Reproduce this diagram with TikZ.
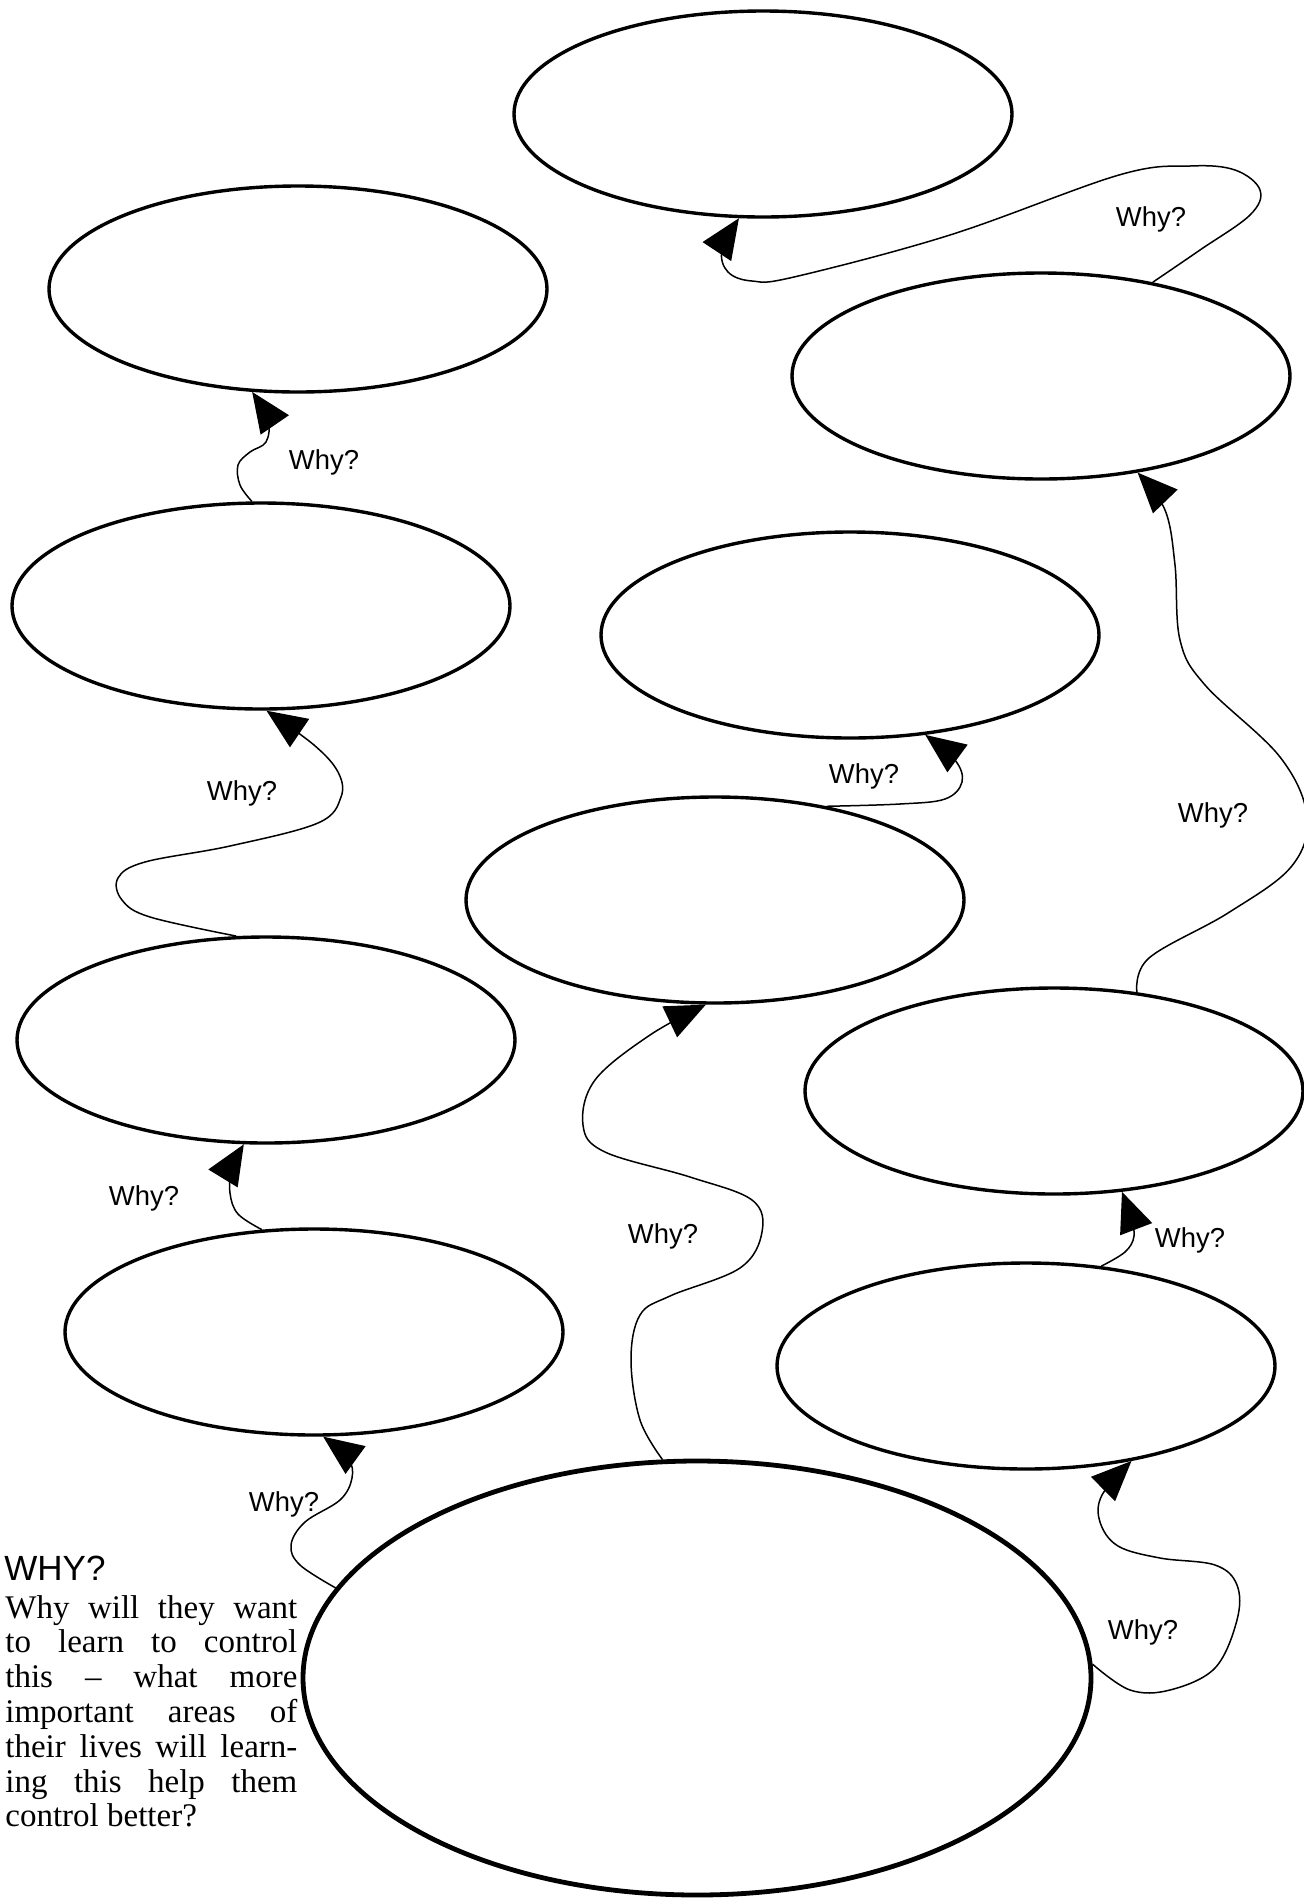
\documentclass[tikz,border=0pt]{standalone}
\usepackage{fontspec}
\newfontfamily\labelfont{Liberation Sans}
\newfontfamily\bodyfont[Ligatures=TeX]{Liberation Serif}
\usetikzlibrary{arrows.meta,shapes.geometric}
\begin{document}
\begin{tikzpicture}[x=0.5pt,y=-0.5pt,
  bubble/.style={draw, ellipse, line width=1.7pt, minimum width=249pt, minimum height=103pt, inner sep=0pt},
  bigbubble/.style={draw, ellipse, line width=2.4pt, minimum width=394pt, minimum height=217pt, inner sep=0pt},
  conn/.style={line width=0.75pt, -{Triangle[length=20pt,width=17pt]}},
  whylab/.style={font=\labelfont\fontsize{13.7}{16}\selectfont, inner sep=0pt, anchor=base}]
\useasboundingbox (0,0) rectangle (1303,1902);
% bubbles
\node[bubble] (e1) at (763,114) {};
\node[bubble] (e2) at (298,289) {};
\node[bubble] (e3) at (1041,376) {};
\node[bubble] (e4) at (261,606) {};
\node[bubble] (e5) at (850,635) {};
\node[bubble] (e6) at (715,900) {};
\node[bubble] (e7) at (266,1040) {};
\node[bubble] (e8) at (1054,1091) {};
\node[bubble] (e9) at (314,1332) {};
\node[bubble] (e10) at (1026,1366) {};
\node[bigbubble] (e11) at (697,1678) {};
% connectors
\draw[conn] plot[smooth, tension=0.6] coordinates {(e11.166.4) (300,1565) (291,1545) (305,1522) (340,1500) (352,1478) (348,1458) (e9.-85)};
\draw[conn] plot[smooth, tension=0.6] coordinates {(e9.117.7) (238,1214) (230,1193) (232,1168) (e7.-102.2)};
\draw[conn] plot[smooth, tension=0.6] coordinates {(e7.106.4) (150,917) (122,900) (118,878) (145,862) (230,846) (318,823) (341,797) (338,772) (314,745) (e4.-87)};
\draw[conn] plot[smooth, tension=0.6] coordinates {(e4.95.5) (240,485) (238,465) (250,452) (266,442) (268,420) (e2.-114)};
\draw[conn] plot[smooth, tension=0.6] coordinates {(e11.99.7) (640,1420) (631,1360) (640,1315) (670,1296) (740,1268) (762,1232) (752,1200) (690,1177) (605,1152) (583,1125) (595,1080) (650,1035) (e6.-95)};
\draw[conn] plot[smooth, tension=0.6] coordinates {(e6.40.7) (900,804) (945,799) (962,782) (955,760) (e5.-53.5)};
\draw[conn] plot[smooth, tension=0.6] coordinates {(e11.2) (1130,1690) (1170,1690) (1215,1668) (1237,1620) (1237,1585) (1215,1565) (1160,1558) (1118,1546) (1100,1522) (1102,1495) (e10.-42.7)};
\draw[conn] plot[smooth, tension=0.6] coordinates {(e10.53.5) (1125,1252) (1134,1236) (1130,1215) (e8.-56.8)};
\draw[conn] plot[smooth, tension=0.6] coordinates {(e8.50.6) (1149,958) (1228,913) (1291,867) (1307,817) (1280,757) (1205,685) (1180,640) (1175,565) (1165,510) (e3.-45)};
\draw[conn] plot[smooth, tension=0.6] coordinates {(e3.40.7) (1200,250) (1250,215) (1260,190) (1235,170) (1190,166) (1119,175) (950,235) (794,277) (752,281) (728,272) (722,250) (e1.-103.7)};
% labels
\node[whylab] (w1) at (284,1511) {Why?};
\node[whylab] (w2) at (144,1205) {Why?};
\node[whylab] (w3) at (242,800) {Why?};
\node[whylab] (w4) at (324,469) {Why?};
\node[whylab] (w5) at (663,1243) {Why?};
\node[whylab] (w6) at (864,783) {Why?};
\node[whylab] (w7) at (1143,1639) {Why?};
\node[whylab] (w8) at (1190,1247) {Why?};
\node[whylab] (w9) at (1213,822) {Why?};
\node[whylab] (w10) at (1151,226) {Why?};
% text block
\node[anchor=base west, inner sep=0pt, font=\labelfont\fontsize{17.5}{20}\selectfont] (head) at (4,1580) {WHY?};
\node[anchor=base west, inner sep=0pt, font=\bodyfont\fontsize{16.5}{17.4}\selectfont] (body) at (5,1618)
  {\vtop{\hsize=146pt
   \hbox to\hsize{Why will they want}
   \hbox to\hsize{to learn to control}
   \hbox to\hsize{this – what more}
   \hbox to\hsize{important areas of}
   \hbox to\hsize{their lives will learn-}
   \hbox to\hsize{ing this help them}
   \hbox{control better?}}};
\end{tikzpicture}
\end{document}
